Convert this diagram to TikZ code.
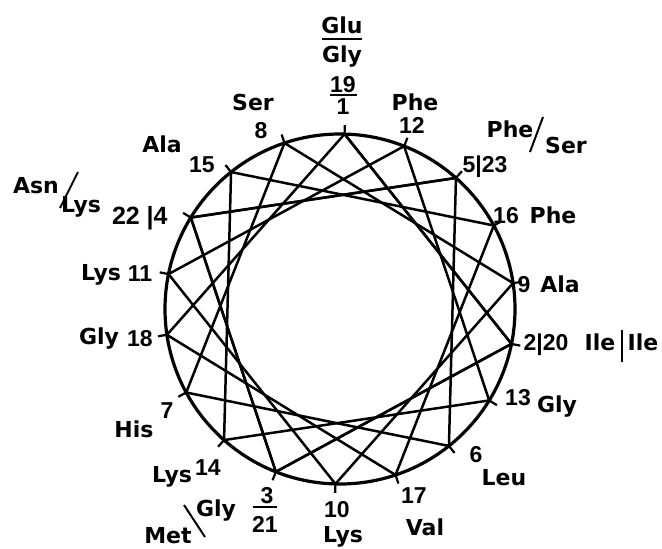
\documentclass[tikz,border=0pt]{standalone}
\usepackage{fontspec}
\setmainfont{DejaVu Sans}
\newfontfamily\numf{Liberation Sans}
\usetikzlibrary{calc}
\begin{document}
\begin{tikzpicture}[x=1pt,y=-1pt,
  lbl/.style={font=\fontsize{22}{24}\selectfont\bfseries, inner sep=0pt, anchor=base},
  num/.style={font=\fontsize{23}{25}\selectfont\bfseries\numf, inner sep=0pt, anchor=base},
  ring/.style={line width=3.2pt},
  chord/.style={line width=2.5pt},
  tickmark/.style={line width=2.2pt},
  bar/.style={line width=2pt}]
\useasboundingbox (0,0) rectangle (662,549);
\fill[white] (0,0) rectangle (662,549);
\coordinate (c) at (340,309);
\draw[ring] (c) circle (175);
\foreach \n in {1,...,23} {
  \pgfmathsetmacro\a{(\n-1)*100-88.5}
  \coordinate (p\n) at ($(c)+(\a:175)$);
  \coordinate (o\n) at ($(c)+(\a:184)$);
}
\foreach \n in {1,...,18} \draw[tickmark] (p\n) -- (o\n);
\foreach \n [evaluate=\n as \m using int(\n+1)] in {1,...,22}
  \draw[chord] (p\n) -- (p\m);

% top: Glu/Gly  19/1
\node[lbl] (glu) at (342,33) {Glu};
\coordinate (b1a) at (322,39); \coordinate (b1b) at (362,39);
\draw[bar] (b1a) -- (b1b);
\node[lbl] (gly1) at (342,62) {Gly};
\node[num] (n19) at (343,92) {19};
\coordinate (b2a) at (330,95); \coordinate (b2b) at (357,95);
\draw[bar] (b2a) -- (b2b);
\node[num] (n1) at (343,114) {1};

% Phe 12
\node[lbl] (phe12) at (415,110) {Phe};
\node[num] (n12) at (412,133) {12};

% Phe/Ser 5|23
\node[lbl] (phe5) at (510,137) {Phe};
\coordinate (s1a) at (530,152); \coordinate (s1b) at (543,117);
\draw[bar] (s1a) -- (s1b);
\node[lbl] (ser5) at (566,153) {Ser};
\node[num] (n5) at (485,172) {5|23};

% right side
\node[num] (n16) at (506,223) {16};
\node[lbl] (phe16) at (553,223) {Phe};
\node[num] (n9) at (524,292) {9};
\node[lbl] (ala9) at (560,292) {Ala};
\node[num] (n2) at (546,350) {2|20};
\node[lbl] (ile1) at (600,350) {Ile};
\coordinate (s2a) at (622,330); \coordinate (s2b) at (622,362);
\draw[line width=1.4pt] (s2a) -- (s2b);
\node[lbl] (ile2) at (643,350) {Ile};
\node[num] (n13) at (518,405) {13};
\node[lbl] (gly13) at (557,412) {Gly};
\node[num] (n6) at (476,462) {6};
\node[lbl] (leu) at (504,485) {Leu};

% bottom
\node[num] (n17) at (414,503) {17};
\node[lbl] (val) at (425,535) {Val};
\node[num] (n10) at (337,517) {10};
\node[lbl] (lys10) at (343,542) {Lys};
\node[num] (n3) at (267,503) {3};
\coordinate (b3a) at (253,507); \coordinate (b3b) at (277,507);
\draw[bar] (b3a) -- (b3b);
\node[num] (n21) at (265,532) {21};
\node[lbl] (gly3) at (216,516) {Gly};
\coordinate (s3a) at (184,505); \coordinate (s3b) at (205,537);
\draw[bar] (s3a) -- (s3b);
\node[lbl] (met) at (168,543) {Met};

% left side
\node[lbl] (lys14) at (172,482) {Lys};
\node[num] (n14) at (208,475) {14};
\node[lbl] (his) at (134,437) {His};
\node[num] (n7) at (167,418) {7};
\node[lbl] (gly18) at (99,344) {Gly};
\node[num] (n18) at (140,346) {18};
\node[lbl] (lys11) at (101,280) {Lys};
\node[num] (n11) at (140,281) {11};
\node[lbl] (asn) at (36,193) {Asn};
\coordinate (s4a) at (60,208); \coordinate (s4b) at (78,172);
\draw[bar] (s4a) -- (s4b);
\node[lbl] (lys4) at (81,212) {Lys};
\node[num, font=\fontsize{25}{27}\selectfont\bfseries\numf] (n22) at (126,224) {22};
\node[num, font=\fontsize{25}{27}\selectfont\bfseries\numf] (n4) at (157,224) {|4};
\node[lbl] (ala15) at (162,152) {Ala};
\node[num] (n15) at (202,172) {15};
\node[lbl] (ser8) at (253,110) {Ser};
\node[num] (n8) at (261,138) {8};
\end{tikzpicture}
\end{document}
